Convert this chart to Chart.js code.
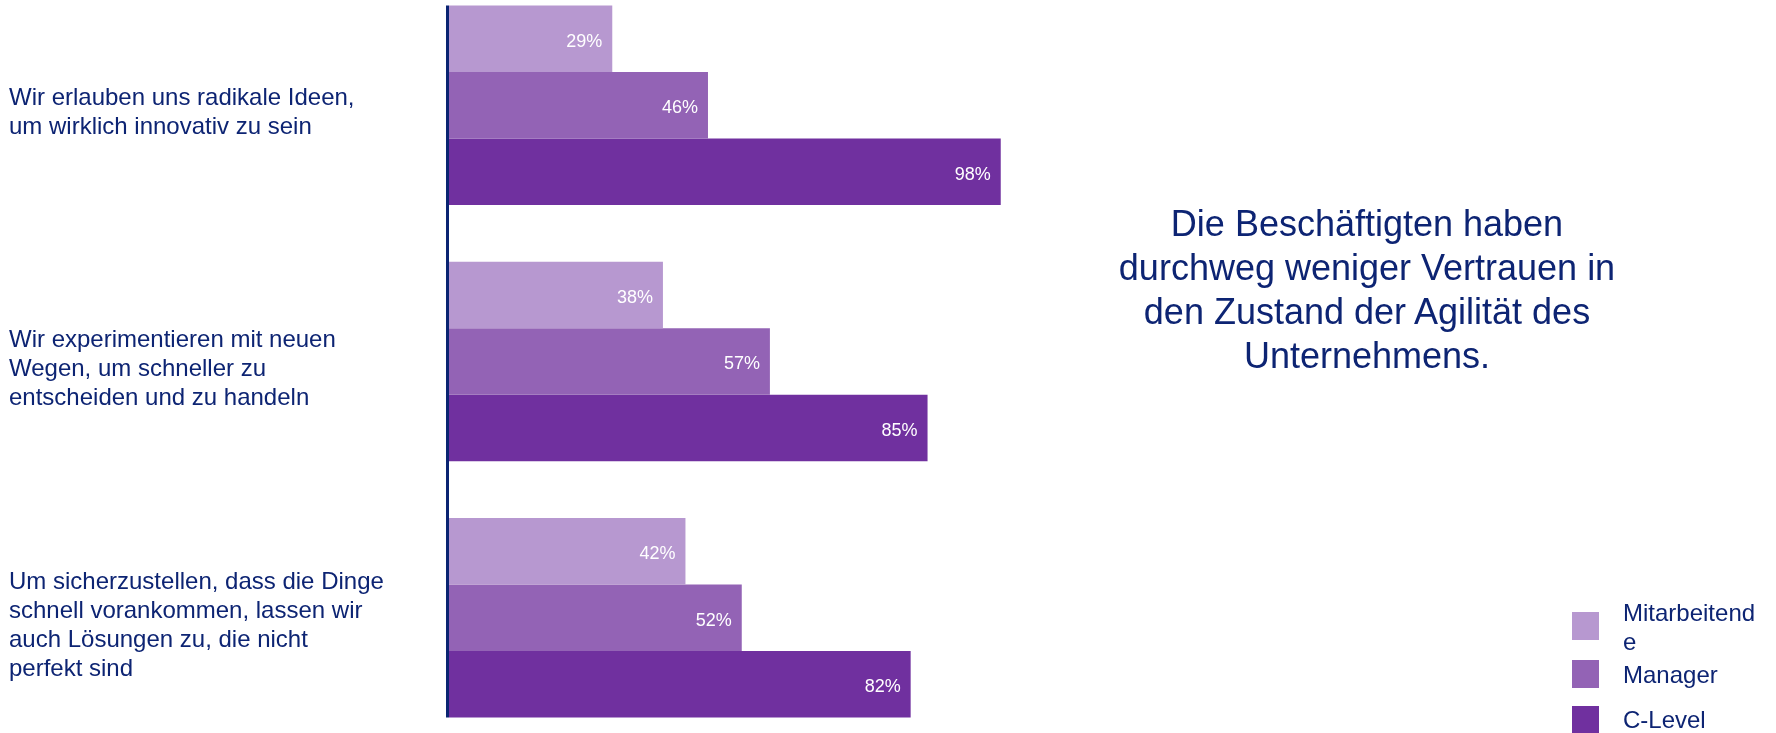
<!DOCTYPE html>
<html lang="de">
<head>
<meta charset="utf-8">
<title>Agilität – Vertrauen nach Ebene</title>
<script src="https://cdn.jsdelivr.net/npm/chart.js@4/dist/chart.umd.min.js"></script>
<style>
  html, body { margin: 0; padding: 0; background: #fff; overflow: hidden; }
  body { width: 1776px; height: 733px; position: relative; font-family: "Liberation Sans", Arial, sans-serif; color: #0d2473; }
  #wrap { position: absolute; left: 0; top: -23px; width: 1776px; height: 769px; }
  #headline { position: absolute; left: 1117px; width: 500px; top: 202px; font-size: 36px; line-height: 44px; text-align: center; }
  .lg-box { position: absolute; left: 1572px; width: 27px; height: 28px; }
  .lg-text { position: absolute; left: 1623px; width: 140px; font-size: 24px; line-height: 29px; overflow-wrap: anywhere; }
</style>
</head>
<body>
<div id="wrap"><canvas id="chart"></canvas></div>
<div id="headline">Die Beschäftigten haben<br>durchweg weniger Vertrauen in<br>den Zustand der Agilität des<br>Unternehmens.</div>
<div id="legend"></div>
<script>
const categories = [
  ["Wir erlauben uns radikale Ideen,", "um wirklich innovativ zu sein"],
  ["Wir experimentieren mit neuen", "Wegen, um schneller zu", "entscheiden und zu handeln"],
  ["Um sicherzustellen, dass die Dinge", "schnell vorankommen, lassen wir", "auch Lösungen zu, die nicht", "perfekt sind"]
];
const seriesNames = ["Mitarbeitende", "Manager", "C-Level"];
const mitarbeitende = [29, 38, 42];
const manager = [46, 57, 52];
const cLevel = [98, 85, 82];
const seriesColors = ["#b798d0", "#9363b5", "#70309f"];

const navy = "#0d2473";
const fontFamily = '"Liberation Sans", Arial, sans-serif';

// vertical axis line only spans the bars, not the whole plot area
const axisLine = {
  id: 'axisLine',
  afterDatasetsDraw(chart) {
    const first = chart.getDatasetMeta(0).data[0];
    const lastMeta = chart.getDatasetMeta(chart.data.datasets.length - 1);
    const last = lastMeta.data[lastMeta.data.length - 1];
    const ctx = chart.ctx;
    ctx.save();
    ctx.strokeStyle = "#0a2472";
    ctx.lineWidth = 3;
    ctx.beginPath();
    ctx.moveTo(chart.chartArea.left - 1.5, first.y - first.height / 2);
    ctx.lineTo(chart.chartArea.left - 1.5, last.y + last.height / 2);
    ctx.stroke();
    ctx.restore();
  }
};

// percentage labels inside the bar ends
const valueLabels = {
  id: 'valueLabels',
  afterDatasetsDraw(chart) {
    const ctx = chart.ctx;
    ctx.save();
    ctx.fillStyle = '#ffffff';
    ctx.font = '18px ' + fontFamily;
    ctx.textAlign = 'right';
    ctx.textBaseline = 'middle';
    chart.data.datasets.forEach((ds, i) => {
      chart.getDatasetMeta(i).data.forEach((bar, j) => {
        ctx.fillText(ds.data[j] + '%', bar.x - 10, bar.y + 3);
      });
    });
    ctx.restore();
  }
};

new Chart(document.getElementById('chart'), {
  type: 'bar',
  data: {
    labels: categories,
    datasets: [
      { label: seriesNames[0], data: mitarbeitende, backgroundColor: seriesColors[0] },
      { label: seriesNames[1], data: manager, backgroundColor: seriesColors[1] },
      { label: seriesNames[2], data: cLevel, backgroundColor: seriesColors[2] }
    ]
  },
  options: {
    indexAxis: 'y',
    responsive: true,
    maintainAspectRatio: false,
    animation: false,
    layout: { padding: { left: 9, right: 764, top: 0, bottom: 0 } },
    datasets: { bar: { categoryPercentage: 0.778, barPercentage: 1.0, borderWidth: 0 } },
    scales: {
      x: { min: 0, max: 100, display: false },
      y: {
        grid: { display: false, drawTicks: false },
        border: { display: false },
        afterFit(scale) {
          // fixed label column; labels may overflow the plot edges vertically
          scale.width = 440;
          scale.paddingTop = 0;
          scale.paddingBottom = 0;
        },
        ticks: {
          crossAlign: 'far',
          padding: 0,
          labelOffset: 8,
          color: navy,
          font: { family: fontFamily, size: 24, lineHeight: 1.2 }
        }
      }
    },
    plugins: {
      legend: { display: false },
      tooltip: { enabled: false }
    }
  },
  plugins: [axisLine, valueLabels]
});

// legend on the lower right, built from the series
const legendEl = document.getElementById('legend');
const boxTops = [612, 660, 706];
const textTops = [598, 660, 705];
seriesNames.forEach((name, i) => {
  const box = document.createElement('div');
  box.className = 'lg-box';
  box.style.top = boxTops[i] + 'px';
  box.style.background = seriesColors[i];
  legendEl.appendChild(box);
  const txt = document.createElement('div');
  txt.className = 'lg-text';
  txt.style.top = textTops[i] + 'px';
  txt.textContent = name;
  legendEl.appendChild(txt);
});
</script>
</body>
</html>
